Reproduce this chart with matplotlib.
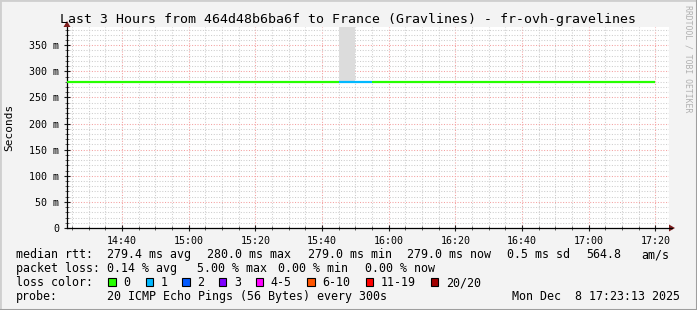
import matplotlib
matplotlib.use("Agg")
import matplotlib.pyplot as plt
from matplotlib.lines import Line2D
from matplotlib.patches import Rectangle, Polygon
from matplotlib.ticker import MultipleLocator, FixedLocator, FixedFormatter

# ---------------- data ----------------
title = "Last 3 Hours from 464d48b6ba6f to France (Gravlines) - fr-ovh-gravelines"
step_labels = ["14:20", "14:25", "14:30", "14:35", "14:40", "14:45", "14:50", "14:55",
               "15:00", "15:05", "15:10", "15:15", "15:20", "15:25", "15:30", "15:35",
               "15:40", "15:45", "15:50", "15:55", "16:00", "16:05", "16:10", "16:15",
               "16:20", "16:25", "16:30", "16:35", "16:40", "16:45", "16:50", "16:55",
               "17:00", "17:05", "17:10", "17:15"]
end_label = "17:20"
median_ms = [280, 279, 280, 279, 279, 279, 280, 279,
             279, 279, 279, 279, 279, 279, 280, 280,
             279, 280, 280, 280, 279, 279, 279, 279,
             279, 279, 279, 280, 279, 279, 279, 279,
             280, 279, 279, 279]
lost_pings = [0, 0, 0, 0, 0, 0, 0, 0,
              0, 0, 0, 0, 0, 0, 0, 0,
              0, 1, 1, 0, 0, 0, 0, 0,
              0, 0, 0, 0, 0, 0, 0, 0,
              0, 0, 0, 0]
smoke_steps = ["15:10", "15:15", "15:45", "16:05"]
smoke_top_ms = [281.5, 282.5, 395.0, 281.5]

view_start, view_end = "14:23.5", "17:24.1"
x_tick_labels = ["14:40", "15:00", "15:20", "15:40", "16:00", "16:20", "16:40", "17:00", "17:20"]
y_tick_values = [0, 50, 100, 150, 200, 250, 300, 350]
y_tick_labels = ["0", "50 m", "100 m", "150 m", "200 m", "250 m", "300 m", "350 m"]

loss_names = ["0", "1", "2", "3", "4-5", "6-10", "11-19", "20/20"]
loss_colors = ["#26ff00", "#00b8ff", "#0059ff", "#7e00ff", "#ff00ff", "#ff5500", "#ff0000", "#a10000"]

row_median = ["median rtt:", "279.4 ms avg", "280.0 ms max", "279.0 ms min",
              "279.0 ms now", "0.5 ms sd", "564.8", "am/s"]
row_loss = ["packet loss:", "0.14 % avg", "5.00 % max", "0.00 % min", "0.00 % now"]
probe_text = "20 ICMP Echo Pings (56 Bytes) every 300s"
date_text = "Mon Dec  8 17:23:13 2025"


def tmin(lbl):
    h, m = lbl.split(":")
    return int(h) * 60 + float(m) - 14 * 60


def loss_color(n):
    if n <= 0:
        return loss_colors[0]
    if n == 1:
        return loss_colors[1]
    if n == 2:
        return loss_colors[2]
    if n == 3:
        return loss_colors[3]
    if n <= 5:
        return loss_colors[4]
    if n <= 10:
        return loss_colors[5]
    if n <= 19:
        return loss_colors[6]
    return loss_colors[7]


# ---------------- figure ----------------
W, H, DPI = 697, 310, 100
MONO = "DejaVu Sans Mono"
fig = plt.figure(figsize=(W / DPI, H / DPI), dpi=DPI)
fig.patch.set_facecolor("#f3f3f3")


def P(x, y):
    return (x / W, 1 - y / H)


# frame
fig.add_artist(Line2D([0, 0], [0, 1], transform=fig.transFigure, color="#cfcfcf", lw=2.0))
fig.add_artist(Line2D([0, 1], [1, 1], transform=fig.transFigure, color="#cfcfcf", lw=2.0))
fig.add_artist(Line2D([1, 1], [0, 1], transform=fig.transFigure, color="#9e9e9e", lw=2.2))
fig.add_artist(Line2D([0, 1], [0, 0], transform=fig.transFigure, color="#9e9e9e", lw=2.2))

L, R, T, B = 67, 669, 27, 228
ax = fig.add_axes([L / W, (H - B) / H, (R - L) / W, (B - T) / H])
ax.set_facecolor("white")
ax.set_xlim(tmin(view_start), tmin(view_end))
ax.set_ylim(0, 385)

# grid
ax.xaxis.set_major_locator(FixedLocator([tmin(s) for s in x_tick_labels]))
ax.xaxis.set_major_formatter(FixedFormatter(x_tick_labels))
ax.xaxis.set_minor_locator(MultipleLocator(5))
ax.yaxis.set_major_locator(FixedLocator(y_tick_values))
ax.yaxis.set_major_formatter(FixedFormatter(y_tick_labels))
ax.yaxis.set_minor_locator(MultipleLocator(10))
ax.grid(which="minor", color="#cdcdcd", linestyle=(0, (1, 1.6)), linewidth=0.75)
ax.grid(which="major", color="#f4a0a0", linestyle=(0, (1, 1.6)), linewidth=0.75)
ax.set_axisbelow(True)

for s in ["top", "right"]:
    ax.spines[s].set_visible(False)
for s in ["left", "bottom"]:
    ax.spines[s].set_color("#000000")
    ax.spines[s].set_linewidth(0.9)

ax.tick_params(which="major", direction="inout", length=5, width=0.8, color="#202020",
               labelsize=7.2, labelcolor="#000000")
ax.tick_params(which="minor", direction="inout", length=3, width=0.7, color="#606060")
ax.tick_params(axis="y", pad=3.0)
ax.tick_params(axis="x", pad=3.0)
for lab in ax.get_xticklabels() + ax.get_yticklabels():
    lab.set_fontfamily(MONO)

ax.set_ylabel("Seconds", fontsize=8, fontfamily=MONO)
ax.yaxis.set_label_coords(-(L - 14) / (R - L), 0.5)

# smoke
for lbl, top in zip(smoke_steps, smoke_top_ms):
    i = step_labels.index(lbl)
    t0 = tmin(lbl)
    ax.add_patch(Rectangle((t0, median_ms[i]), 5, top - median_ms[i],
                           facecolor="#dcdcdc", edgecolor="none", zorder=2))

# median line, coloured by loss
for i, lbl in enumerate(step_labels):
    t0 = tmin(lbl)
    t1 = tmin(step_labels[i + 1]) if i + 1 < len(step_labels) else tmin(end_label)
    c = loss_color(lost_pings[i])
    ax.plot([t0, t1], [median_ms[i], median_ms[i]], color=c, lw=1.6,
            solid_capstyle="butt", zorder=3)
    if i > 0 and median_ms[i] != median_ms[i - 1]:
        ax.plot([t0, t0], [median_ms[i - 1], median_ms[i]], color=c, lw=1.6,
                solid_capstyle="butt", zorder=3)

# axis extensions and arrows
fig.add_artist(Line2D([P(R, B)[0], P(672, B)[0]], [P(R, B)[1]] * 2,
                      transform=fig.transFigure, color="#000000", lw=0.9))
fig.add_artist(Polygon([P(669, 224.5), P(675, 228), P(669, 231.5)], closed=True,
                       transform=fig.transFigure, facecolor="#7f1f1f", edgecolor="none"))
fig.add_artist(Polygon([P(63.5, 27), P(67, 21), P(70.5, 27)], closed=True,
                       transform=fig.transFigure, facecolor="#7f1f1f", edgecolor="none"))

# title and side text
fig.text(*P(348.5, 19), title, ha="center", va="center", fontsize=9.5,
         fontfamily=MONO, color="#000000")
fig.text(*P(688, 59), "RRDTOOL / TOBI OETIKER", ha="center", va="center", rotation=270,
         fontsize=5.9, fontfamily=MONO, color="#b0b0b0")

# legend rows
LEG = 8.4
xs_median = [16, 107.3, 207.3, 308.3, 407.3, 507.3, 586, 641.7]
for x, s in zip(xs_median, row_median):
    fig.text(*P(x, 254.5), s, ha="left", va="center", fontsize=LEG, fontfamily=MONO)
xs_loss = [16, 107.3, 197.3, 278.3, 365]
for x, s in zip(xs_loss, row_loss):
    fig.text(*P(x, 268.5), s, ha="left", va="center", fontsize=LEG, fontfamily=MONO)

fig.text(*P(16, 282.5), "loss color:", ha="left", va="center", fontsize=LEG, fontfamily=MONO)
box_x = [108.3, 145.7, 182.3, 219, 255.7, 307.3, 365.7, 430.7]
for bx, name, col in zip(box_x, loss_names, loss_colors):
    fig.add_artist(Rectangle(P(bx, 286), 7.3 / W, 7.6 / H, transform=fig.transFigure,
                             facecolor=col, edgecolor="#000000", lw=0.8))
    fig.text(*P(bx + 15, 282.5), name, ha="left", va="center", fontsize=LEG, fontfamily=MONO)

fig.text(*P(16, 296.5), "probe:", ha="left", va="center", fontsize=LEG, fontfamily=MONO)
fig.text(*P(107.3, 296.5), probe_text, ha="left", va="center", fontsize=LEG, fontfamily=MONO)
fig.text(*P(680, 296.5), date_text, ha="right", va="center", fontsize=LEG, fontfamily=MONO)

fig.savefig("out.png", dpi=DPI, facecolor=fig.get_facecolor())
